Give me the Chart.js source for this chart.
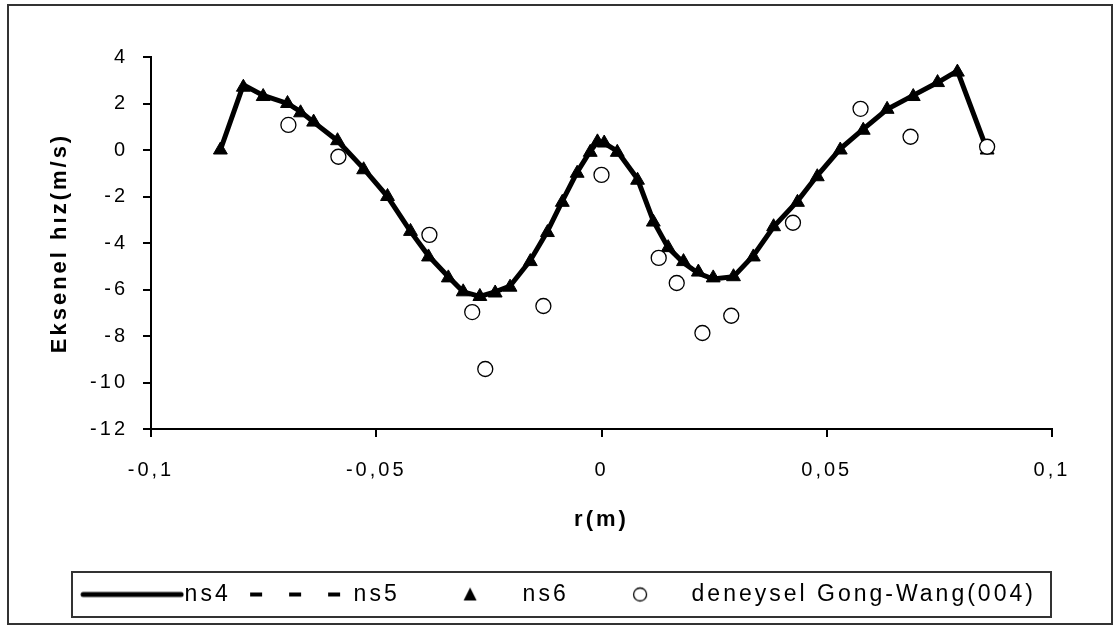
<!DOCTYPE html>
<html>
<head>
<meta charset="utf-8">
<script src="https://cdn.jsdelivr.net/npm/chart.js@4/dist/chart.umd.min.js"></script>
<style>
  html, body { margin: 0; padding: 0; background: #fff; }
  #wrap { width: 1114px; height: 626px; }
</style>
</head>
<body>
<div id="wrap"><canvas id="chart" width="1114" height="626"></canvas></div>
<script>
// model curves (r in m, axial velocity in m/s)
const rModel = [-0.0846, -0.0795, -0.0751, -0.0697, -0.0668, -0.0639, -0.0586, -0.0528, -0.0475, -0.0424,
  -0.0384, -0.034, -0.0307, -0.027, -0.0236, -0.0203, -0.0158, -0.012, -0.0087, -0.0054,
  -0.0025, -0.0009, 0.0006, 0.0035, 0.008, 0.0115, 0.0148, 0.0182, 0.0215, 0.0248,
  0.0293, 0.0337, 0.0382, 0.0435, 0.0479, 0.053, 0.0581, 0.0634, 0.0692, 0.0746, 0.079, 0.0856];
const ns4 = [0, 2.8, 2.35, 2.0, 1.65, 1.2, 0.4, -0.8, -2.0, -3.5,
  -4.55, -5.45, -6.1, -6.3, -6.1, -5.85, -4.75, -3.5, -2.2, -0.95,
  -0.05, 0.35, 0.3, -0.05, -1.25, -3.05, -4.2, -4.85, -5.3, -5.55,
  -5.45, -4.55, -3.3, -2.2, -1.1, 0.05, 0.9, 1.75, 2.35, 2.9, 3.4, 0];
const ns5 = [0, 2.75, 2.3, 2.0, 1.6, 1.2, 0.4, -0.85, -2.0, -3.5,
  -4.6, -5.5, -6.1, -6.3, -6.15, -5.85, -4.8, -3.55, -2.25, -1.0,
  -0.1, 0.35, 0.3, -0.1, -1.3, -3.1, -4.2, -4.8, -5.25, -5.5,
  -5.45, -4.6, -3.3, -2.25, -1.15, 0, 0.85, 1.75, 2.3, 2.9, 3.35, 0];
const ns6 = [0, 2.7, 2.3, 2.0, 1.6, 1.2, 0.4, -0.85, -2.0, -3.5,
  -4.6, -5.5, -6.1, -6.3, -6.15, -5.9, -4.8, -3.55, -2.25, -1.0,
  -0.1, 0.35, 0.3, -0.1, -1.3, -3.1, -4.2, -4.8, -5.25, -5.5,
  -5.45, -4.6, -3.3, -2.25, -1.15, 0, 0.85, 1.75, 2.3, 2.9, 3.35, 0];

// experimental points
const rExp = [-0.0695, -0.0584, -0.0382, -0.0287, -0.0258, -0.0129, 0, 0.0127, 0.0167, 0.0224, 0.0288, 0.0425, 0.0575, 0.0686, 0.0856];
const expVals = [1.08, -0.29, -3.65, -6.97, -9.42, -6.71, -1.07, -4.64, -5.72, -7.87, -7.13, -3.13, 1.77, 0.57, 0.14];

const seriesNames = ["ns4", "ns5", "ns6", "deneysel Gong-Wang(004)"];
const xTicks = [-0.1, -0.05, 0, 0.05, 0.1];
const xTickLabels = ["-0,1", "-0,05", "0", "0,05", "0,1"];
const yTicks = [4, 2, 0, -2, -4, -6, -8, -10, -12];

const FONT = "'Liberation Sans', Arial, sans-serif";
const LETTER = "3px";

const pts = (xs, ys) => xs.map((x, i) => ({ x: x, y: ys[i] }));

// legend symbols as small canvases (shift moves the symbol sideways inside its slot)
function icon(w, h, shift, draw) {
  const c = document.createElement("canvas");
  c.width = w + 2 * Math.abs(shift);
  c.height = h;
  const g = c.getContext("2d");
  draw(g, c.width / 2 + shift, h / 2);
  return c;
}
const iconNs4 = icon(104, 10, 4, (g, cx, cy) => {
  g.strokeStyle = "#000"; g.lineWidth = 5; g.lineCap = "round";
  g.beginPath(); g.moveTo(cx - 49, cy); g.lineTo(cx + 49, cy); g.stroke();
});
const iconNs5 = icon(92, 10, -2, (g, cx, cy) => {
  g.fillStyle = "#000";
  [-45, -6, 33].forEach(d => g.fillRect(cx + d, cy - 2, 12, 4));
});
const iconNs6 = icon(18, 18, 4, (g, cx, cy) => {
  g.fillStyle = "#000";
  g.beginPath(); g.moveTo(cx, cy - 7); g.lineTo(cx + 6.5, cy + 6); g.lineTo(cx - 6.5, cy + 6); g.closePath(); g.fill();
});
const iconExp = icon(18, 18, 5, (g, cx, cy) => {
  g.strokeStyle = "#000"; g.lineWidth = 1.3; g.fillStyle = "#fff";
  g.beginPath(); g.arc(cx, cy, 6.5, 0, Math.PI * 2); g.fill(); g.stroke();
});
const legendIcons = [iconNs4, iconNs5, iconNs6, iconExp];

const framePlugin = {
  id: "frame",
  beforeUpdate(chart) { chart.ctx.letterSpacing = LETTER; },
  beforeLayout(chart) { chart.ctx.letterSpacing = LETTER; },
  beforeDraw(chart) {
    const ctx = chart.ctx;
    ctx.save();
    ctx.fillStyle = "#fff";
    ctx.fillRect(0, 0, chart.width, chart.height);
    ctx.restore();
    ctx.letterSpacing = LETTER;
  },
  afterDraw(chart) {
    const ctx = chart.ctx;
    ctx.save();
    ctx.strokeStyle = "#333";
    ctx.lineWidth = 2;
    ctx.strokeRect(8, 5, 1104, 619);
    ctx.strokeRect(72, 572, 979, 45);
    ctx.restore();
  }
};

new Chart(document.getElementById("chart"), {
  type: "scatter",
  data: {
    datasets: [
      {
        label: seriesNames[0], data: pts(rModel, ns4), showLine: true,
        borderColor: "#000", backgroundColor: "#000", borderWidth: 5,
        pointRadius: 0, tension: 0, order: 3
      },
      {
        label: seriesNames[1], data: pts(rModel, ns5), showLine: true,
        borderColor: "#000", backgroundColor: "#000", borderWidth: 2, borderDash: [10, 8],
        pointRadius: 0, tension: 0, order: 2
      },
      {
        label: seriesNames[2], data: pts(rModel, ns6), showLine: false,
        pointStyle: "triangle", pointRadius: 8, borderWidth: 1,
        borderColor: "#000", backgroundColor: "#000", order: 1
      },
      {
        label: seriesNames[3], data: pts(rExp, expVals), showLine: false,
        pointStyle: "circle", pointRadius: 7.5, borderWidth: 1.3,
        borderColor: "#000", backgroundColor: "#fff", order: 0
      }
    ]
  },
  options: {
    responsive: false,
    devicePixelRatio: 1,
    animation: false,
    events: [],
    layout: { padding: { left: 5, right: 0, top: 57, bottom: 10 } },
    plugins: {
      tooltip: { enabled: false },
      legend: {
        position: "bottom",
        labels: {
          usePointStyle: true,
          pointStyleWidth: 90,
          padding: 21.4,
          color: "#000",
          font: { family: FONT, size: 23 },
          generateLabels: () => seriesNames.map((name, i) => ({
            text: name, pointStyle: legendIcons[i], fillStyle: "#000", strokeStyle: "#000",
            lineWidth: 0, hidden: false, datasetIndex: i, fontColor: "#000"
          }))
        }
      }
    },
    scales: {
      x: {
        type: "linear", position: "bottom", min: -0.1, max: 0.1,
        afterBuildTicks: s => { s.ticks = xTicks.map(v => ({ value: v })); },
        afterFit: s => { s.height = 132.6; },
        ticks: {
          color: "#000", padding: 21, maxRotation: 0, autoSkip: false,
          font: { family: FONT, size: 20 },
          callback: (v, i) => xTickLabels[i]
        },
        grid: { drawOnChartArea: false, drawTicks: true, tickLength: 8, color: "#000", tickColor: "#000", lineWidth: 2 },
        border: { display: true, color: "#000", width: 2 },
        title: {
          display: true, text: "r(m)", color: "#000",
          font: { family: FONT, size: 22, weight: "bold" },
          padding: { top: 0, bottom: 28.4 }
        }
      },
      y: {
        type: "linear", position: "left", min: -12, max: 4,
        afterBuildTicks: s => { s.ticks = yTicks.map(v => ({ value: v })); },
        afterFit: s => { s.width = 146; },
        ticks: {
          color: "#000", padding: 15,
          font: { family: FONT, size: 20 },
          callback: v => String(v)
        },
        grid: { drawOnChartArea: false, drawTicks: true, tickLength: 8, color: "#000", tickColor: "#000", lineWidth: 2 },
        border: { display: true, color: "#000", width: 2 },
        title: {
          display: true, text: "Eksenel hız(m/s)", color: "#000",
          font: { family: FONT, size: 22, weight: "bold" },
          padding: { top: 41.8, bottom: 0 }
        }
      },
      y2: {
        type: "linear", position: "right", display: true,
        afterFit: s => { s.width = 62; },
        ticks: { display: false },
        grid: { display: false, drawTicks: false },
        border: { display: false }
      }
    }
  },
  plugins: [framePlugin]
});
</script>
</body>
</html>
